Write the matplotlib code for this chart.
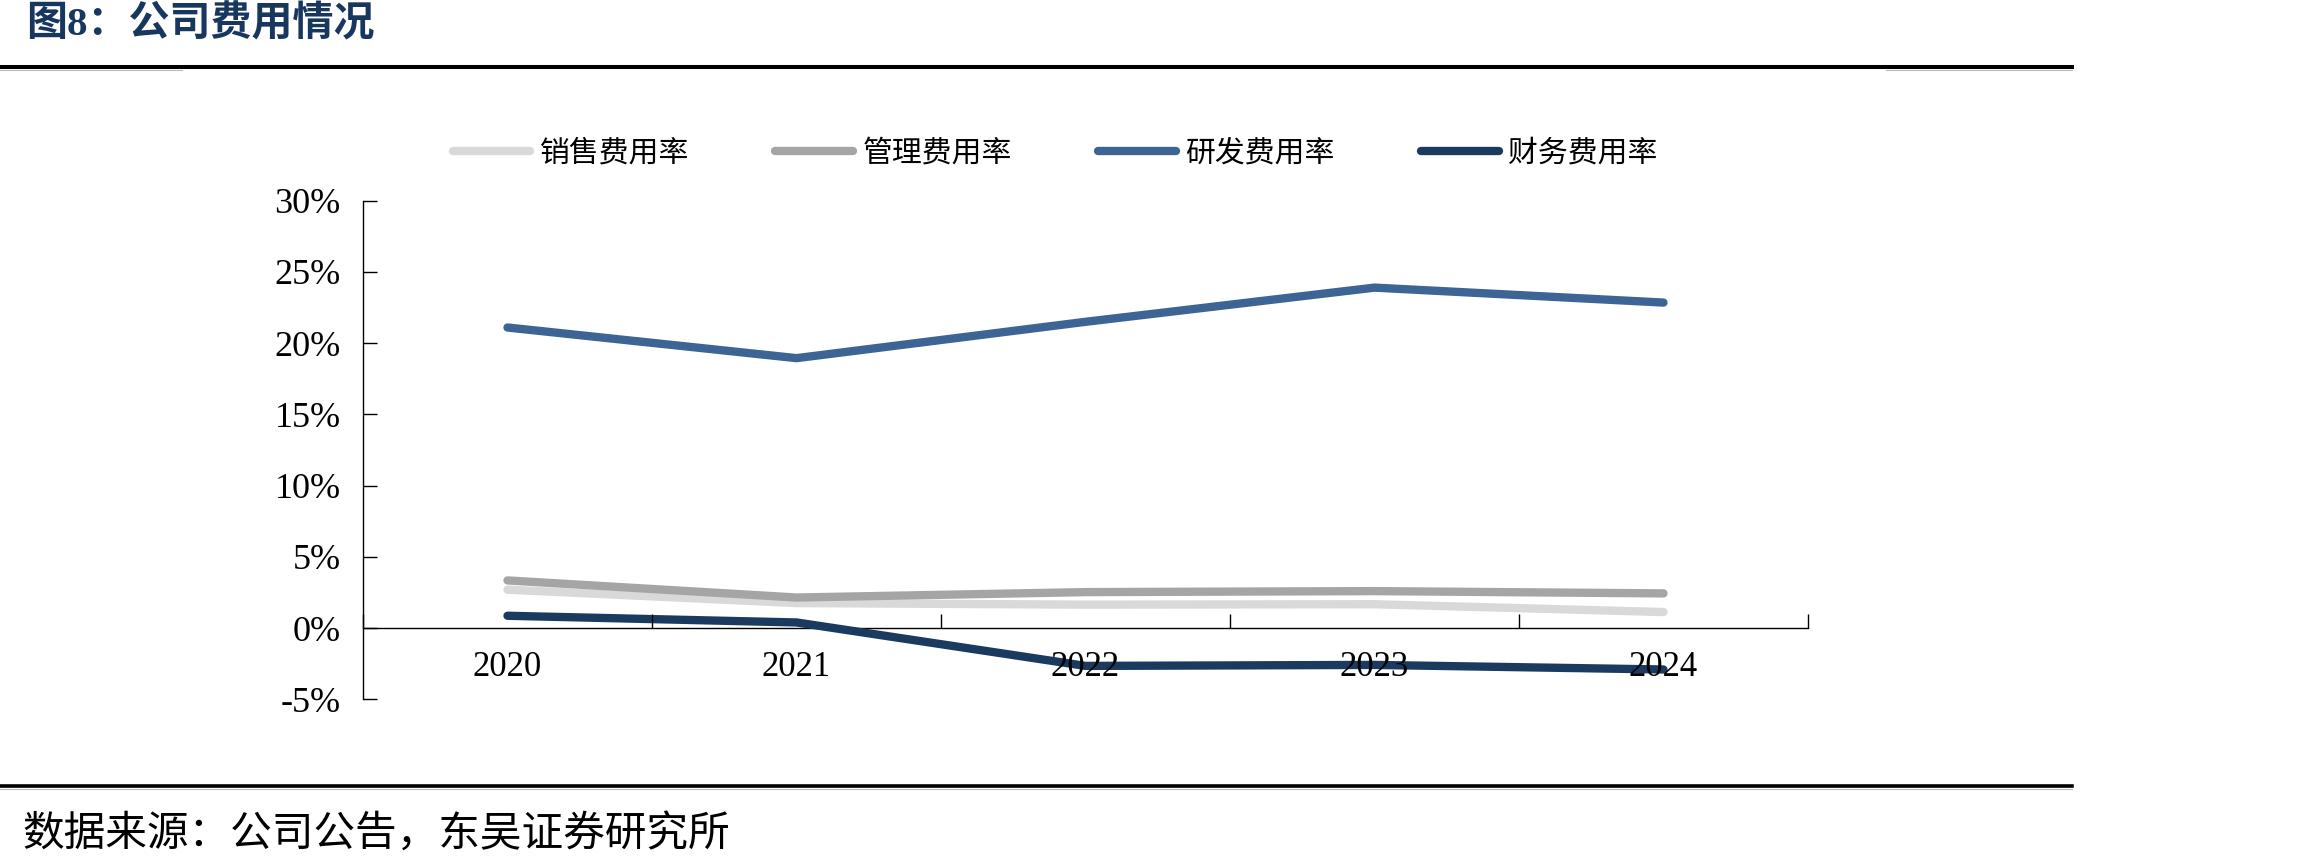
import matplotlib
matplotlib.use('Agg')
import matplotlib.pyplot as plt
from matplotlib.lines import Line2D

# ---- data ----
years = ['2020', '2021', '2022', '2023', '2024']
sales_rate = [2.7, 1.76, 1.65, 1.68, 1.13]      # 销售费用率
admin_rate = [3.35, 2.15, 2.53, 2.6, 2.44]      # 管理费用率
rnd_rate = [21.1, 18.95, 21.5, 23.9, 22.85]     # 研发费用率
fin_rate = [0.87, 0.4, -2.65, -2.58, -2.9]      # 财务费用率
series_names = ['销售费用率', '管理费用率', '研发费用率', '财务费用率']
yticks = [-5, 0, 5, 10, 15, 20, 25, 30]
ytick_labels = ['-5%', '0%', '5%', '10%', '15%', '20%', '25%', '30%']
title = '图8：公司费用情况'
source = '数据来源：公司公告，东吴证券研究所'

colors = ['#d9d9d9', '#a5a5a5', '#3c6494', '#1a3a60']

W, H = 2303, 865
fig = plt.figure(figsize=(W / 100, H / 100), dpi=100)
fig.patch.set_facecolor('white')

ax_left, ax_right = 363, 1808
ax_top, ax_bottom = 200.7, 699.4
ax = fig.add_axes([ax_left / W, 1 - ax_bottom / H,
                   (ax_right - ax_left) / W, (ax_bottom - ax_top) / H])

xs = list(range(len(years)))
for vals, name, c in zip([sales_rate, admin_rate, rnd_rate, fin_rate], series_names, colors):
    ax.plot(xs, vals, color=c, lw=6, solid_capstyle='round',
            solid_joinstyle='round', label=name, zorder=3)

ax.set_xlim(-0.5, len(years) - 0.5)
ax.set_ylim(-5, 30)
ax.spines['top'].set_visible(False)
ax.spines['right'].set_visible(False)
ax.spines['bottom'].set_position(('data', 0))
ax.spines['left'].set_linewidth(1.0)
ax.spines['bottom'].set_linewidth(1.0)

serif = 'Liberation Serif'
ax.set_xticks([i - 0.5 for i in range(len(years) + 1)])
ax.set_xticklabels([])
ax.set_xticks(xs, minor=True)
ax.set_xticklabels(years, minor=True, fontsize=25, family=serif)
ax.tick_params(axis='x', which='major', direction='in', length=10, width=1)
ax.tick_params(axis='x', which='minor', length=0, pad=16.5)
ax.set_yticks(yticks)
ax.set_yticklabels(ytick_labels, fontsize=26, family=serif)
ax.tick_params(axis='y', direction='in', length=10, width=1, pad=16)
ax.xaxis.set_zorder(4)

fig.legend(loc='center left', bbox_to_anchor=(452.5 / W, 1 - 153 / H),
           ncol=4, frameon=False,
           prop={'family': 'Noto Sans CJK SC', 'size': 21.5},
           handlelength=2.61, handletextpad=0.3, columnspacing=2.9,
           borderpad=0, borderaxespad=0)

fig.text(26 / W, 1 - 25 / H, title,
         family=['Liberation Serif', 'Noto Sans CJK SC'], weight='bold',
         size=29.5, color='#17375e', ha='left', va='center')
fig.text(22 / W, 1 - 834 / H, source, family='Noto Sans CJK SC',
         size=30, color='black', ha='left', va='center')

# header and footer rules
fig.add_artist(Line2D([0, 2072 / W], [1 - 66.5 / H] * 2, transform=fig.transFigure,
                      color='black', lw=2.9))
fig.add_artist(Line2D([0, 182 / W], [1 - 69.5 / H] * 2, transform=fig.transFigure,
                      color='#bbbbbb', lw=0.8))
fig.add_artist(Line2D([1886 / W, 2072 / W], [1 - 69.5 / H] * 2, transform=fig.transFigure,
                      color='#bbbbbb', lw=0.8))
fig.add_artist(Line2D([0, 2072 / W], [1 - 786 / H] * 2, transform=fig.transFigure,
                      color='black', lw=2.6))
fig.add_artist(Line2D([0, 2072 / W], [1 - 788.8 / H] * 2, transform=fig.transFigure,
                      color='#bbbbbb', lw=0.8))

fig.savefig('out.png', dpi=100, facecolor='white')
